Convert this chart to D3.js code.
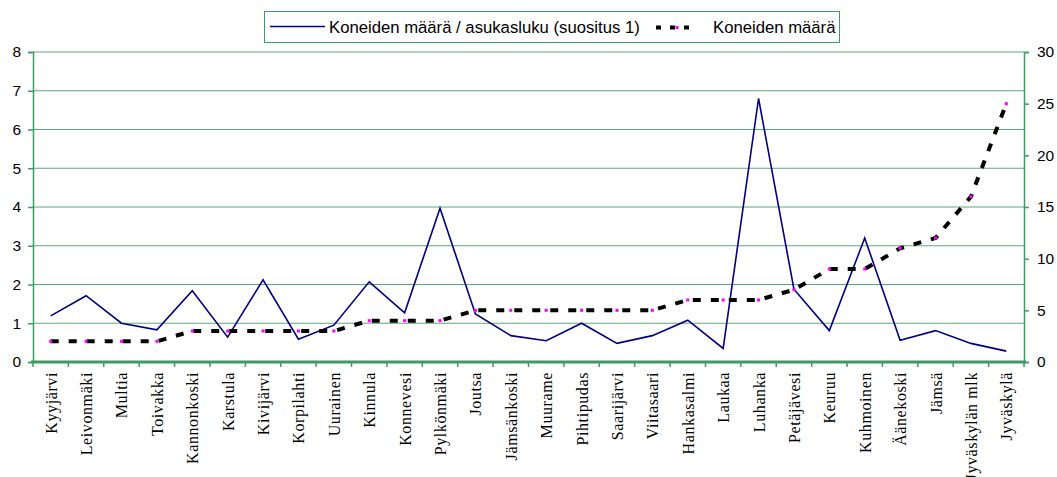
<!DOCTYPE html>
<html>
<head>
<meta charset="utf-8">
<script src="https://cdn.jsdelivr.net/npm/d3@7"></script>
<style>
  body { margin: 0; background: #fff; }
  svg { display: block; }
</style>
</head>
<body>
<div id="chart"></div>
<script>
// Municipalities, sorted by number of machines
var kunnat = ["Kyyjärvi", "Leivonmäki", "Multia", "Toivakka", "Kannonkoski", "Karstula",
  "Kivijärvi", "Korpilahti", "Uurainen", "Kinnula", "Konnevesi", "Pylkönmäki", "Joutsa",
  "Jämsänkoski", "Muurame", "Pihtipudas", "Saarijärvi", "Viitasaari", "Hankasalmi",
  "Laukaa", "Luhanka", "Petäjävesi", "Keuruu", "Kuhmoinen", "Äänekoski", "Jämsä",
  "Jyväskylän mlk", "Jyväskylä"];

// machines / population (left axis)
var suhde = [1.19, 1.71, 1.0, 0.83, 1.84, 0.64, 2.12, 0.59, 0.95, 2.07, 1.27, 3.97, 1.24,
  0.68, 0.55, 1.0, 0.48, 0.68, 1.08, 0.35, 6.8, 1.88, 0.81, 3.2, 0.56, 0.81, 0.48, 0.28];

// number of machines (right axis)
var maara = [2, 2, 2, 2, 3, 3, 3, 3, 3, 4, 4, 4, 5, 5, 5, 5, 5, 5, 6, 6, 6, 7, 9, 9, 11, 12, 16, 25];

var leftTicks = [0, 1, 2, 3, 4, 5, 6, 7, 8];
var rightTicks = [0, 5, 10, 15, 20, 25, 30];

var width = 1057, height = 477;
var plotLeft = 33, plotRight = 1024, plotTop = 52, plotBottom = 362;
var green = "#3f9a63";

var svg = d3.select("#chart").append("svg")
  .attr("width", width)
  .attr("height", height);

var x = d3.scaleBand().domain(kunnat).range([plotLeft, plotRight]);
var yL = d3.scaleLinear().domain([0, 8]).range([plotBottom, plotTop]);
var yR = d3.scaleLinear().domain([0, 30]).range([plotBottom, plotTop]);
var cx = function(d, i) { return x(kunnat[i]) + x.bandwidth() / 2; };

// gridlines
svg.append("g").selectAll("line")
  .data(leftTicks.slice(1))
  .enter().append("line")
  .attr("x1", plotLeft).attr("x2", plotRight)
  .attr("y1", function(d) { return yL(d); })
  .attr("y2", function(d) { return yL(d); })
  .attr("stroke", "#5aaa7a")
  .attr("stroke-width", 1);

// left axis
var axL = svg.append("g")
  .attr("transform", "translate(" + plotLeft + ",0)")
  .call(d3.axisLeft(yL).tickValues(leftTicks).tickSize(5).tickPadding(7));
// right axis
var axR = svg.append("g")
  .attr("transform", "translate(" + plotRight + ",0)")
  .call(d3.axisRight(yR).tickValues(rightTicks).tickSize(5).tickPadding(8));

[axL, axR].forEach(function(ax) {
  ax.select(".domain").attr("stroke", green).attr("stroke-width", 1.5);
  ax.selectAll(".tick line").attr("stroke", green).attr("stroke-width", 1.5);
  ax.selectAll(".tick text")
    .attr("font-family", "Liberation Sans, Arial, sans-serif")
    .attr("font-size", 15.5)
    .attr("fill", "#000");
});

// x axis
var axX = svg.append("g")
  .attr("transform", "translate(0," + plotBottom + ")")
  .call(d3.axisBottom(x).tickSize(0).tickPadding(0));
axX.select(".domain").remove();
axX.append("line")
  .attr("x1", plotLeft - 2).attr("x2", plotRight + 2)
  .attr("stroke", green).attr("stroke-width", 3);
axX.selectAll(".sep")
  .data(d3.range(kunnat.length + 1))
  .enter().append("line")
  .attr("class", "sep")
  .attr("x1", function(i) { return plotLeft + i * x.step(); })
  .attr("x2", function(i) { return plotLeft + i * x.step(); })
  .attr("y1", 0).attr("y2", 5)
  .attr("stroke", green).attr("stroke-width", 1.5);
axX.selectAll(".tick text")
  .attr("font-family", "Liberation Serif, Times New Roman, serif")
  .attr("font-size", 16)
  .attr("letter-spacing", 0.6)
  .attr("fill", "#000")
  .attr("text-anchor", "end")
  .attr("transform", "translate(6,10) rotate(-90)")
  .attr("dy", 0)
  .attr("y", 0)
  .attr("x", 0);

// ratio line
var lineL = d3.line().x(cx).y(function(d) { return yL(d); });
svg.append("path")
  .datum(suhde)
  .attr("d", lineL)
  .attr("fill", "none")
  .attr("stroke", "#000080")
  .attr("stroke-width", 1.6);

// machines dashed line
var lineR = d3.line().x(cx).y(function(d) { return yR(d); });
svg.append("path")
  .datum(maara)
  .attr("d", lineR)
  .attr("fill", "none")
  .attr("stroke", "#000")
  .attr("stroke-width", 4)
  .attr("stroke-dasharray", "8,10");
svg.append("g").selectAll("rect")
  .data(maara)
  .enter().append("rect")
  .attr("x", function(d, i) { return cx(d, i) - 1.5; })
  .attr("y", function(d) { return yR(d) - 1.5; })
  .attr("width", 3).attr("height", 3)
  .attr("fill", "#ff00ff");

// legend
var leg = svg.append("g");
leg.append("rect")
  .attr("x", 264.5).attr("y", 11.5).attr("width", 575).attr("height", 31)
  .attr("fill", "#fff").attr("stroke", green).attr("stroke-width", 1);
leg.append("line")
  .attr("x1", 270).attr("x2", 325).attr("y1", 26.5).attr("y2", 26.5)
  .attr("stroke", "#000080").attr("stroke-width", 1.6);
leg.append("text")
  .attr("x", 329).attr("y", 33)
  .attr("font-family", "Liberation Sans, Arial, sans-serif")
  .attr("font-size", 16.7)
  .text("Koneiden määrä / asukasluku (suositus 1)");
leg.append("line")
  .attr("x1", 656).attr("x2", 698).attr("y1", 27.5).attr("y2", 27.5)
  .attr("stroke", "#000").attr("stroke-width", 4)
  .attr("stroke-dasharray", "5,9");
leg.append("rect")
  .attr("x", 675.5).attr("y", 26).attr("width", 3).attr("height", 3)
  .attr("fill", "#ff00ff");
leg.append("text")
  .attr("x", 713).attr("y", 33)
  .attr("font-family", "Liberation Sans, Arial, sans-serif")
  .attr("font-size", 16.7)
  .text("Koneiden määrä");
</script>
</body>
</html>
